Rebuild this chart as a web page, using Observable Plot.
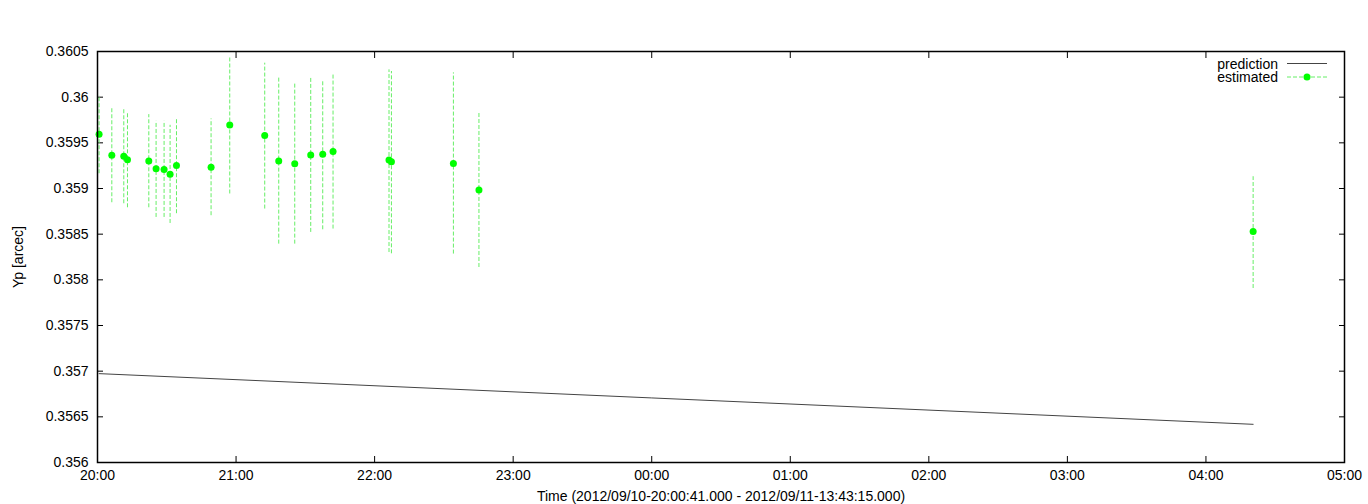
<!DOCTYPE html>
<html>
<head>
<meta charset="utf-8">
<script src="https://cdn.jsdelivr.net/npm/d3@7"></script>
<script src="https://cdn.jsdelivr.net/npm/@observablehq/plot@0.6"></script>
<style>
  html, body { margin: 0; padding: 0; background: #fff; }
  #wrap { position: relative; width: 1368px; height: 504px; }
  #legend { position: absolute; left: 0; top: 0; pointer-events: none; }
  #legend text { font-family: "Liberation Sans", Arial, sans-serif; font-size: 14px; fill: #000; }
</style>
</head>
<body>
<div id="wrap"></div>
<script>
// ---- data ----
const estTimes = [
  "2012-09-10T20:00:41Z", "2012-09-10T20:06:12Z", "2012-09-10T20:11:23Z", "2012-09-10T20:12:59Z",
  "2012-09-10T20:22:13Z", "2012-09-10T20:25:22Z", "2012-09-10T20:28:50Z", "2012-09-10T20:31:26Z",
  "2012-09-10T20:34:12Z", "2012-09-10T20:49:11Z", "2012-09-10T20:57:16Z", "2012-09-10T21:12:25Z",
  "2012-09-10T21:18:29Z", "2012-09-10T21:25:25Z", "2012-09-10T21:32:20Z", "2012-09-10T21:37:32Z",
  "2012-09-10T21:42:00Z", "2012-09-10T22:06:14Z", "2012-09-10T22:07:17Z", "2012-09-10T22:34:07Z",
  "2012-09-10T22:45:11Z", "2012-09-11T04:20:26Z"
];
const estValues = [
  0.359593, 0.359363, 0.359352, 0.359316, 0.359302, 0.359217, 0.359209, 0.359155,
  0.359253, 0.359234, 0.359696, 0.359579, 0.359302, 0.359272, 0.359367, 0.359374,
  0.359404, 0.359312, 0.359294, 0.359275, 0.358983, 0.358530
];
const estLow = [
  0.359162, 0.358844, 0.358833, 0.358789, 0.358789, 0.358683, 0.358683, 0.358617,
  0.358724, 0.358702, 0.358940, 0.358775, 0.358391, 0.358391, 0.358519, 0.358548,
  0.358556, 0.358299, 0.358285, 0.358282, 0.358135, 0.357905
];
const estHigh = [
  0.360018, 0.359875, 0.359864, 0.359831, 0.359809, 0.359736, 0.359736, 0.359692,
  0.359765, 0.359762, 0.360438, 0.360372, 0.360212, 0.360146, 0.360207, 0.360174,
  0.360248, 0.360299, 0.360281, 0.360266, 0.359823, 0.359129
];
const predTimes = ["2012-09-10T20:00:41Z", "2012-09-11T00:00:00Z", "2012-09-11T04:20:26Z"];
const predValues = [0.356973, 0.356707, 0.356418];

const xDomain = ["2012-09-10T20:00:00Z", "2012-09-11T05:00:00Z"];
const xTickTimes = [
  "2012-09-10T20:00:00Z", "2012-09-10T21:00:00Z", "2012-09-10T22:00:00Z", "2012-09-10T23:00:00Z",
  "2012-09-11T00:00:00Z", "2012-09-11T01:00:00Z", "2012-09-11T02:00:00Z", "2012-09-11T03:00:00Z",
  "2012-09-11T04:00:00Z", "2012-09-11T05:00:00Z"
];
const xTickLabels = ["20:00", "21:00", "22:00", "23:00", "00:00", "01:00", "02:00", "03:00", "04:00", "05:00"];
const yTicks = [0.356, 0.3565, 0.357, 0.3575, 0.358, 0.3585, 0.359, 0.3595, 0.36, 0.3605];
const yTickLabels = ["0.356", "0.3565", "0.357", "0.3575", "0.358", "0.3585", "0.359", "0.3595", "0.36", "0.3605"];
const xLabel = "Time (2012/09/10-20:00:41.000 - 2012/09/11-13:43:15.000)";
const yLabel = "Yp [arcec]";
const seriesNames = ["prediction", "estimated"];

// ---- build tables ----
const est = estTimes.map((t, i) => ({t: new Date(t), v: estValues[i], lo: estLow[i], hi: estHigh[i]}));
const pred = predTimes.map((t, i) => ({t: new Date(t), v: predValues[i]}));
const xt = xTickTimes.map(t => new Date(t));
const xFmt = new Map(xt.map((d, i) => [+d, xTickLabels[i]]));
const yFmt = new Map(yTicks.map((d, i) => [d, yTickLabels[i]]));

const GREEN = "#00ff00";
const BAR = "#66ee66";

const chart = Plot.plot({
  width: 1368,
  height: 504,
  marginLeft: 97,
  marginRight: 24,
  marginTop: 51,
  marginBottom: 42,
  style: {fontFamily: "'Liberation Sans', Arial, sans-serif", fontSize: "14px", background: "#fff", color: "#000"},
  x: {type: "utc", domain: xDomain.map(d => new Date(d))},
  y: {domain: [0.356, 0.3605]},
  marks: [
    // inward ticks on all sides
    Plot.axisX(xt, {anchor: "bottom", tickSize: -6, tickFormat: () => "", label: null, stroke: "#000"}),
    Plot.axisX(xt, {anchor: "top", tickSize: -6, tickFormat: () => "", label: null, stroke: "#000"}),
    Plot.axisY(yTicks, {anchor: "left", tickSize: -6, tickFormat: () => "", label: null, stroke: "#000"}),
    Plot.axisY(yTicks, {anchor: "right", tickSize: -6, tickFormat: () => "", label: null, stroke: "#000"}),
    // tick labels + axis titles
    Plot.axisX(xt, {anchor: "bottom", tickSize: 0, tickPadding: 8, tickFormat: d => xFmt.get(+d),
      label: xLabel, labelAnchor: "center", labelArrow: "none", labelOffset: 38}),
    Plot.axisY(yTicks, {anchor: "left", tickSize: 0, tickPadding: 9, tickFormat: d => yFmt.get(d),
      label: yLabel, labelAnchor: "center", labelArrow: "none", labelOffset: 84}),
    // prediction
    Plot.line(pred, {x: "t", y: "v", stroke: "#444", strokeWidth: 1}),
    // estimated error bars and points
    Plot.ruleX(est, {x: "t", y1: "lo", y2: "hi", stroke: BAR, strokeWidth: 1, strokeDasharray: "4,2"}),
    Plot.dot(est, {x: "t", y: "v", r: 3.5, fill: GREEN, stroke: "none"}),
    Plot.frame({stroke: "#000", strokeWidth: 1.5})
  ]
});

const wrap = document.getElementById("wrap");
wrap.appendChild(chart);

// legend overlay (top right inside the frame)
const ns = "http://www.w3.org/2000/svg";
const lg = document.createElementNS(ns, "svg");
lg.setAttribute("id", "legend");
lg.setAttribute("width", 1368);
lg.setAttribute("height", 504);
const rows = [
  {name: seriesNames[0], y: 63.5, kind: "line"},
  {name: seriesNames[1], y: 77, kind: "est"}
];
for (const r of rows) {
  const tx = document.createElementNS(ns, "text");
  tx.setAttribute("x", 1278);
  tx.setAttribute("y", r.y + 5);
  tx.setAttribute("text-anchor", "end");
  tx.textContent = r.name;
  lg.appendChild(tx);
  const ln = document.createElementNS(ns, "line");
  ln.setAttribute("x1", 1287); ln.setAttribute("x2", 1327);
  ln.setAttribute("y1", r.y); ln.setAttribute("y2", r.y);
  if (r.kind === "line") {
    ln.setAttribute("stroke", "#444");
  } else {
    ln.setAttribute("stroke", BAR);
    ln.setAttribute("stroke-dasharray", "4,2");
  }
  lg.appendChild(ln);
  if (r.kind === "est") {
    const c = document.createElementNS(ns, "circle");
    c.setAttribute("cx", 1307); c.setAttribute("cy", r.y); c.setAttribute("r", 3.5);
    c.setAttribute("fill", GREEN);
    lg.appendChild(c);
  }
}
wrap.appendChild(lg);
</script>
</body>
</html>
